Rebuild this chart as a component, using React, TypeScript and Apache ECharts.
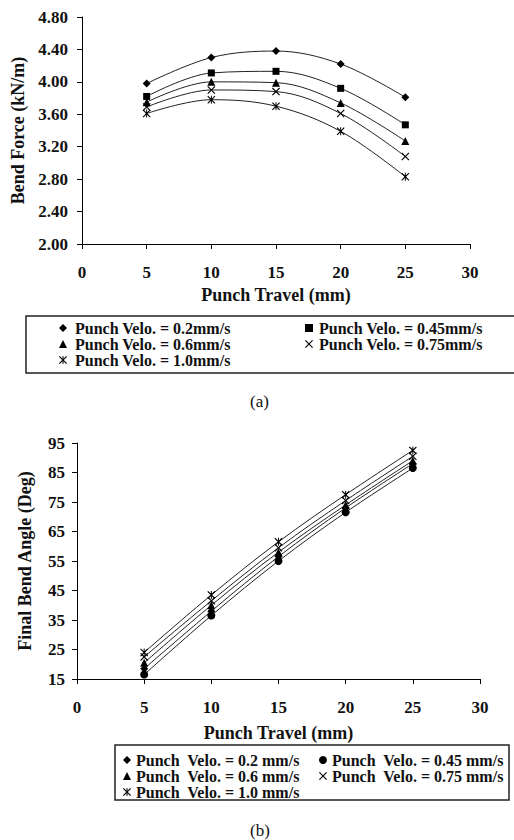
import React, { useEffect, useRef } from "react";
import * as echarts from "echarts";

const TRAVEL = [5, 10, 15, 20, 25];

// (a) Bend force (kN/m)
const FORCE_NAMES = [
  "Punch Velo. = 0.2mm/s",
  "Punch Velo. = 0.45mm/s",
  "Punch Velo. = 0.6mm/s",
  "Punch Velo. = 0.75mm/s",
  "Punch Velo. = 1.0mm/s",
];
const FORCE_02 = [3.98, 4.3, 4.38, 4.22, 3.81];
const FORCE_045 = [3.82, 4.11, 4.13, 3.92, 3.47];
const FORCE_06 = [3.75, 4.0, 3.99, 3.74, 3.27];
const FORCE_075 = [3.69, 3.9, 3.88, 3.61, 3.08];
const FORCE_10 = [3.61, 3.78, 3.7, 3.39, 2.83];

// (b) Final bend angle (deg)
const ANGLE_NAMES = [
  "Punch  Velo. = 0.2 mm/s",
  "Punch  Velo. = 0.45 mm/s",
  "Punch  Velo. = 0.6 mm/s",
  "Punch  Velo. = 0.75 mm/s",
  "Punch  Velo. = 1.0 mm/s",
];
const ANGLE_02 = [18.5, 38, 56.5, 73, 88];
const ANGLE_045 = [16.5, 36.5, 55, 71.5, 86.5];
const ANGLE_06 = [20.5, 40, 58, 74, 89];
const ANGLE_075 = [22.5, 41.5, 59.5, 75.5, 90.5];
const ANGLE_10 = [24, 43.5, 61.5, 77.5, 92.5];

const CROSS =
  "path://M0,1L1,0L5,4L9,0L10,1L6,5L10,9L9,10L5,6L1,10L0,9L4,5Z";
const ASTER =
  "path://M0,1L1,0L5,4L9,0L10,1L6,5L10,9L9,10L5,6L1,10L0,9L4,5ZM4.4,0L5.6,0L5.6,10L4.4,10Z";

const FONT = "'Liberation Serif', 'Times New Roman', serif";
const INK = "#111";

export default function App() {
  const ref = useRef<HTMLDivElement>(null);

  useEffect(() => {
    if (!ref.current) return;
    const chart = echarts.init(ref.current, undefined, { renderer: "svg" });

    const topSymbols = ["diamond", "rect", "triangle", CROSS, ASTER];
    const botSymbols = ["diamond", "circle", "triangle", CROSS, ASTER];
    const forceData = [FORCE_02, FORCE_045, FORCE_06, FORCE_075, FORCE_10];
    const angleData = [ANGLE_02, ANGLE_045, ANGLE_06, ANGLE_075, ANGLE_10];

    const mkSeries = (
      names: string[],
      data: number[][],
      symbols: string[],
      idx: number,
      size: number
    ) =>
      names.map((n, i) => ({
        name: n,
        type: "line",
        xAxisIndex: idx,
        yAxisIndex: idx,
        data: TRAVEL.map((x, k) => [x, data[i][k]]),
        smooth: 0.35,
        symbol: symbols[i],
        symbolSize: symbols[i] === "rect" ? 7 : size,
        lineStyle: { color: "#222", width: 1 },
        itemStyle: { color: "#000" },
        emphasis: { disabled: true },
      }));

    const axisLabel = {
      fontFamily: FONT,
      fontWeight: "bold",
      fontSize: 17,
      color: INK,
    };
    const nameStyle = {
      fontFamily: FONT,
      fontWeight: "bold",
      fontSize: 18,
      color: INK,
    };
    const axisLine = { show: true, lineStyle: { color: "#000", width: 1 } };
    const axisTick = { show: true, inside: false, length: 5, lineStyle: { color: "#000" } };

    const mkLegend = (
      names: string[],
      symbols: string[],
      ids: number[],
      left: number,
      top: number,
      lh: number,
      pad: number
    ) => ({
      orient: "vertical",
      left,
      top,
      padding: 0,
      itemGap: 0,
      itemWidth: 8,
      itemHeight: 8,
      selectedMode: false,
      textStyle: {
        fontFamily: FONT,
        fontWeight: "bold",
        fontSize: 16,
        lineHeight: lh,
        color: INK,
        padding: [0, 0, 0, pad],
      },
      data: ids.map((i) => ({ name: names[i], icon: symbols[i] })),
    });

    chart.setOption({
      animation: false,
      backgroundColor: "#fff",
      grid: [
        { left: 82, top: 17, width: 388, height: 227, containLabel: false },
        { left: 77, top: 443, width: 403, height: 236, containLabel: false },
      ],
      xAxis: [
        {
          type: "value",
          gridIndex: 0,
          min: 0,
          max: 30,
          interval: 5,
          name: "Punch Travel (mm)",
          nameLocation: "middle",
          nameGap: 42,
          nameTextStyle: nameStyle,
          axisLine,
          axisTick,
          splitLine: { show: false },
          axisLabel: { ...axisLabel, margin: 20 },
        },
        {
          type: "value",
          gridIndex: 1,
          min: 0,
          max: 30,
          interval: 5,
          name: "Punch Travel (mm)",
          nameLocation: "middle",
          nameGap: 45,
          nameTextStyle: nameStyle,
          axisLine,
          axisTick,
          splitLine: { show: false },
          axisLabel: { ...axisLabel, margin: 20 },
        },
      ],
      yAxis: [
        {
          type: "value",
          gridIndex: 0,
          min: 2.0,
          max: 4.8,
          interval: 0.4,
          name: "Bend Force (kN/m)",
          nameLocation: "middle",
          nameRotate: 90,
          nameGap: 55,
          nameTextStyle: nameStyle,
          axisLine,
          axisTick,
          splitLine: { show: false },
          axisLabel: {
            ...axisLabel,
            margin: 14,
            formatter: (v: number) => v.toFixed(2),
          },
        },
        {
          type: "value",
          gridIndex: 1,
          min: 15,
          max: 95,
          interval: 10,
          name: "Final Bend Angle (Deg)",
          nameLocation: "middle",
          nameRotate: 90,
          nameGap: 43,
          nameTextStyle: nameStyle,
          axisLine,
          axisTick,
          splitLine: { show: false },
          axisLabel: { ...axisLabel, margin: 12 },
        },
      ],
      legend: [
        mkLegend(FORCE_NAMES, topSymbols, [0, 2, 4], 59, 320, 15, 3),
        mkLegend(FORCE_NAMES, topSymbols, [1, 3], 305, 320, 15, 1),
        mkLegend(ANGLE_NAMES, botSymbols, [0, 2, 4], 123, 752, 14, 0),
        mkLegend(ANGLE_NAMES, botSymbols, [1, 3], 319, 752, 14, 0),
      ],
      graphic: [
        {
          type: "rect",
          shape: { x: 26, y: 316, width: 500, height: 57 },
          style: { fill: "none", stroke: "#222", lineWidth: 1.5 },
          z: 0,
        },
        {
          type: "rect",
          shape: { x: 115, y: 745, width: 394, height: 55 },
          style: { fill: "none", stroke: "#222", lineWidth: 1.5 },
          z: 0,
        },
        {
          type: "text",
          left: 250,
          top: 393,
          style: { text: "(a)", fontFamily: FONT, fontSize: 17, fill: INK },
        },
        {
          type: "text",
          left: 250,
          top: 822,
          style: { text: "(b)", fontFamily: FONT, fontSize: 17, fill: INK },
        },
      ],
      series: [
        ...mkSeries(FORCE_NAMES, forceData, topSymbols, 0, 8),
        ...mkSeries(ANGLE_NAMES, angleData, botSymbols, 1, 8),
      ],
    });

    return () => chart.dispose();
  }, []);

  return (
    <div
      ref={ref}
      style={{
        position: "fixed",
        left: 0,
        top: 0,
        width: 514,
        height: 840,
        background: "#fff",
      }}
    />
  );
}
